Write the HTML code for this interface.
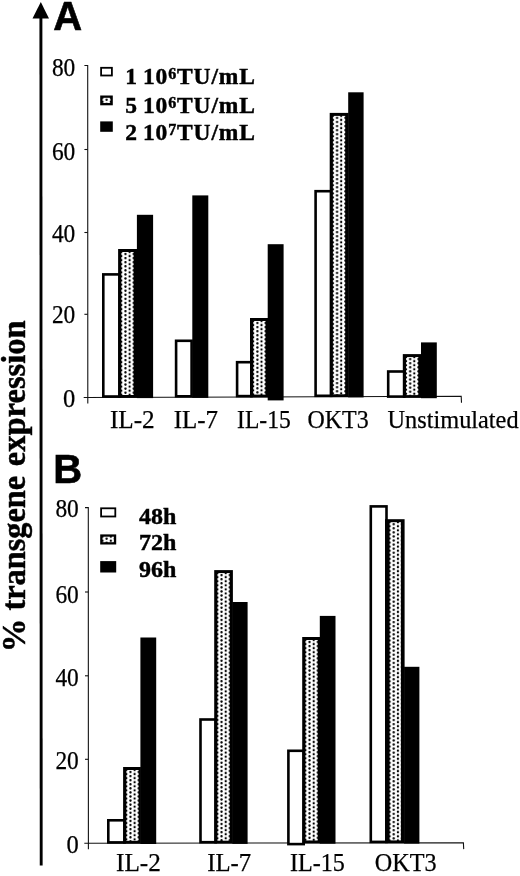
<!DOCTYPE html>
<html><head><meta charset="utf-8"><title>Figure</title>
<style>
html,body{margin:0;padding:0;background:#fff;}
body{width:520px;height:876px;overflow:hidden;}
svg{display:block;}
text{fill:#000;}
.s{font-family:"Liberation Serif", serif;stroke:#000;stroke-width:0.25px;}
.sb{font-family:"Liberation Serif", serif;font-weight:bold;stroke:#000;stroke-width:0.45px;}
.a{font-family:"Liberation Sans", sans-serif;font-weight:bold;}
</style></head><body>
<svg width="520" height="876" viewBox="0 0 520 876">
<defs>
<pattern id="dots" patternUnits="userSpaceOnUse" x="0" y="0" width="8.3" height="4.08">
<rect width="8.3" height="4.08" fill="#fff"/>
<circle cx="0" cy="0" r="1.15" fill="#000"/><circle cx="8.3" cy="0" r="1.15" fill="#000"/>
<circle cx="0" cy="4.08" r="1.15" fill="#000"/><circle cx="8.3" cy="4.08" r="1.15" fill="#000"/>
<circle cx="4.15" cy="2.04" r="1.15" fill="#000"/>
</pattern>
</defs>
<rect width="520" height="876" fill="#fff"/>

<line x1="40.9" y1="14" x2="41.2" y2="865.5" stroke="#000" stroke-width="2.9"/>
<polygon points="40.8,2 32.5,18.5 49,18.5" fill="#000"/>
<g transform="translate(24.7,0) rotate(-90)" class="sb" font-size="33.5">
<text x="-652.3" y="0" textLength="33.7" lengthAdjust="spacingAndGlyphs">%</text>
<text x="-610.5" y="0" textLength="134.7" lengthAdjust="spacingAndGlyphs">transgene</text>
<text x="-466.3" y="0" textLength="146" lengthAdjust="spacingAndGlyphs">expression</text>
</g>
<g stroke="#111" stroke-width="1.1" fill="none">
<path d="M84.4,65.5 H87.7 L87.8,403.5"/>
<path d="M83.7,397.5 L461.2,396.3 L461.5,402.7"/>
<path d="M84.4,314.3 H87.7"/>
<path d="M84.4,232.5 H87.7"/>
<path d="M84.4,149.5 H87.7"/>
</g>
<text class="s" font-size="24.5" text-anchor="end" x="75.3" y="406.5">0</text>
<text class="s" font-size="24.5" text-anchor="end" x="75.3" y="323.4" textLength="23.4" lengthAdjust="spacingAndGlyphs">20</text>
<text class="s" font-size="24.5" text-anchor="end" x="75.3" y="241.6" textLength="23.4" lengthAdjust="spacingAndGlyphs">40</text>
<text class="s" font-size="24.5" text-anchor="end" x="75.3" y="159.5" textLength="23.4" lengthAdjust="spacingAndGlyphs">60</text>
<text class="s" font-size="24.5" text-anchor="end" x="75.3" y="75.8" textLength="23.4" lengthAdjust="spacingAndGlyphs">80</text>
<rect x="103.3" y="274.4" width="16.3" height="122.1" fill="#fff" stroke="#000" stroke-width="2.6"/>
<rect x="118.1" y="249.0" width="19.3" height="148.8" fill="#000"/>
<g transform="translate(121.3,252.0)"><rect x="0" y="0" width="12.3" height="143.0" fill="url(#dots)"/></g>
<rect x="136.9" y="214.8" width="16.2" height="183.3" fill="#000"/>
<rect x="176.1" y="340.8" width="15.5" height="55.5" fill="#fff" stroke="#000" stroke-width="2.6"/>
<rect x="192.3" y="195.4" width="16.0" height="202.5" fill="#000"/>
<rect x="237.1" y="362.2" width="14.4" height="33.9" fill="#fff" stroke="#000" stroke-width="2.6"/>
<rect x="250.0" y="318.0" width="18.2" height="79.4" fill="#000"/>
<g transform="translate(253.2,321.0)"><rect x="0" y="0" width="12.3" height="73.6" fill="url(#dots)"/></g>
<rect x="267.7" y="244.2" width="15.9" height="156.2" fill="#000"/>
<rect x="315.6" y="191.2" width="15.6" height="204.6" fill="#fff" stroke="#000" stroke-width="2.6"/>
<rect x="329.7" y="112.9" width="19.0" height="284.2" fill="#000"/>
<g transform="translate(332.9,115.9)"><rect x="0" y="0" width="12.3" height="278.4" fill="url(#dots)"/></g>
<rect x="348.2" y="92.3" width="15.4" height="305.1" fill="#000"/>
<rect x="388.2" y="371.5" width="16.1" height="25.1" fill="#fff" stroke="#000" stroke-width="2.6"/>
<rect x="402.8" y="354.1" width="18.7" height="43.8" fill="#000"/>
<g transform="translate(406.0,357.1)"><rect x="0" y="0" width="12.3" height="38.0" fill="url(#dots)"/></g>
<rect x="421.0" y="342.4" width="15.8" height="55.8" fill="#000"/>
<text class="s" font-size="25" x="109.9" y="427.5" textLength="44.8" lengthAdjust="spacingAndGlyphs">IL-2</text>
<text class="s" font-size="25" x="173.7" y="427.5" textLength="44.4" lengthAdjust="spacingAndGlyphs">IL-7</text>
<text class="s" font-size="25" x="237.1" y="427.5" textLength="53.7" lengthAdjust="spacingAndGlyphs">IL-15</text>
<text class="s" font-size="25" x="307.5" y="427.5" textLength="61.2" lengthAdjust="spacingAndGlyphs">OKT3</text>
<text class="s" font-size="25" x="387.5" y="427.5" textLength="131.1" lengthAdjust="spacingAndGlyphs">Unstimulated</text>
<g stroke="#111" stroke-width="1.1" fill="none">
<path d="M85.0,507.6 H88.3 L88.4,849.3"/>
<path d="M84.3,843.3 L463.4,842.7 L463.7,849.1"/>
<path d="M85.0,759.3 H88.3"/>
<path d="M85.0,675.8 H88.3"/>
<path d="M85.0,592.0 H88.3"/>
</g>
<text class="s" font-size="24.5" text-anchor="end" x="78.8" y="853.3">0</text>
<text class="s" font-size="24.5" text-anchor="end" x="78.8" y="768.5" textLength="23.4" lengthAdjust="spacingAndGlyphs">20</text>
<text class="s" font-size="24.5" text-anchor="end" x="78.8" y="686" textLength="23.4" lengthAdjust="spacingAndGlyphs">40</text>
<text class="s" font-size="24.5" text-anchor="end" x="78.8" y="602.5" textLength="23.4" lengthAdjust="spacingAndGlyphs">60</text>
<text class="s" font-size="24.5" text-anchor="end" x="78.8" y="517.2" textLength="23.4" lengthAdjust="spacingAndGlyphs">80</text>
<rect x="108.3" y="820.3" width="16.3" height="22.1" fill="#fff" stroke="#000" stroke-width="2.6"/>
<rect x="123.1" y="767.0" width="17.8" height="76.6" fill="#000"/>
<g transform="translate(126.3,770.0)"><rect x="0" y="0" width="12.3" height="70.8" fill="url(#dots)"/></g>
<rect x="140.4" y="637.5" width="15.8" height="206.5" fill="#000"/>
<rect x="200.5" y="719.5" width="15.2" height="122.7" fill="#fff" stroke="#000" stroke-width="2.6"/>
<rect x="214.2" y="570.1" width="18.7" height="273.4" fill="#000"/>
<g transform="translate(217.4,573.1)"><rect x="0" y="0" width="12.3" height="267.6" fill="url(#dots)"/></g>
<rect x="232.4" y="602.0" width="15.2" height="241.9" fill="#000"/>
<rect x="288.4" y="750.8" width="15.3" height="93.3" fill="#fff" stroke="#000" stroke-width="2.6"/>
<rect x="302.2" y="637.0" width="18.1" height="206.3" fill="#000"/>
<g transform="translate(305.4,640.0)"><rect x="0" y="0" width="12.3" height="200.5" fill="url(#dots)"/></g>
<rect x="319.8" y="615.9" width="15.7" height="227.8" fill="#000"/>
<rect x="370.8" y="506.4" width="15.7" height="335.5" fill="#fff" stroke="#000" stroke-width="2.6"/>
<rect x="385.0" y="519.2" width="19.6" height="324.0" fill="#000"/>
<g transform="translate(389.6,522.2)"><rect x="0" y="0" width="11.3" height="318.2" fill="url(#dots)"/></g>
<rect x="404.1" y="666.8" width="15.3" height="176.8" fill="#000"/>
<text class="s" font-size="25" x="116" y="871.2" textLength="44.8" lengthAdjust="spacingAndGlyphs">IL-2</text>
<text class="s" font-size="25" x="207.2" y="871.2" textLength="44.0" lengthAdjust="spacingAndGlyphs">IL-7</text>
<text class="s" font-size="25" x="290" y="871.2" textLength="54.9" lengthAdjust="spacingAndGlyphs">IL-15</text>
<text class="s" font-size="25" x="374.8" y="871.2" textLength="61.8" lengthAdjust="spacingAndGlyphs">OKT3</text>
<text class="a" font-size="40" x="53.2" y="29.8" stroke="#000" stroke-width="0.6">A</text>
<text class="a" font-size="40" x="53.2" y="482.9" stroke="#000" stroke-width="0.6">B</text>
<rect x="101.10000000000001" y="67.80000000000001" width="10.799999999999994" height="7.7" fill="#fff" stroke="#000" stroke-width="1.8"/>
<rect x="100.2" y="95.5" width="12.6" height="9.8" fill="#000"/>
<g transform="translate(102.5,97.8)"><rect x="0" y="0" width="8.0" height="5.2" fill="url(#dots)"/></g>
<rect x="100.2" y="121.4" width="12.599999999999994" height="10.400000000000006" fill="#000"/>
<text class="sb" font-size="23.5" style="letter-spacing:0.85px;word-spacing:-1.5px" x="125.2" y="84.2">1 10<tspan font-size="16" dy="-5.1">6</tspan><tspan dy="5.1">TU/mL</tspan></text>
<text class="sb" font-size="23.5" style="letter-spacing:0.85px;word-spacing:-1.5px" x="125.2" y="112.8">5 10<tspan font-size="16" dy="-5.1">6</tspan><tspan dy="5.1">TU/mL</tspan></text>
<text class="sb" font-size="23.5" style="letter-spacing:0.85px;word-spacing:-1.5px" x="125.2" y="139.6">2 10<tspan font-size="16" dy="-5.1">7</tspan><tspan dy="5.1">TU/mL</tspan></text>
<rect x="101.10000000000001" y="508.29999999999995" width="14.2" height="8.2" fill="#fff" stroke="#000" stroke-width="1.8"/>
<rect x="100.2" y="534.4" width="16.0" height="10.1" fill="#000"/>
<g transform="translate(102.5,536.7)"><rect x="0" y="0" width="11.4" height="5.5" fill="url(#dots)"/></g>
<rect x="100.2" y="561.1" width="16.0" height="11.399999999999977" fill="#000"/>
<text class="sb" font-size="24" style="letter-spacing:0px;word-spacing:0px" x="139" y="523.9">48h</text>
<text class="sb" font-size="24" style="letter-spacing:0px;word-spacing:0px" x="139" y="549.7">72h</text>
<text class="sb" font-size="24" style="letter-spacing:0px;word-spacing:0px" x="139" y="576.7">96h</text>
</svg></body></html>
